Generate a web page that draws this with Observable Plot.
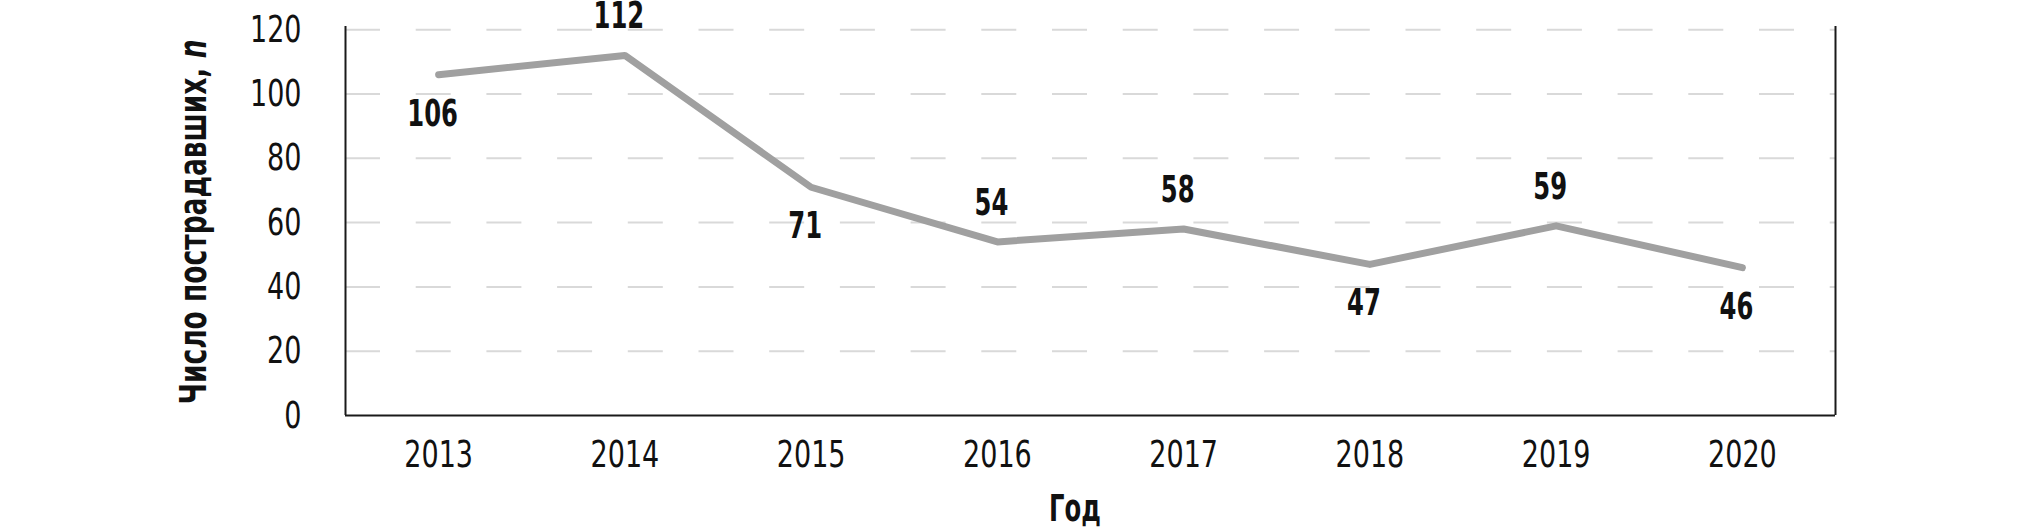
<!DOCTYPE html>
<html><head><meta charset="utf-8">
<script src="https://cdn.jsdelivr.net/npm/d3@7"></script>
<script src="https://cdn.jsdelivr.net/npm/@observablehq/plot@0.6"></script>
<style>
html,body{margin:0;padding:0;background:#fff;}
#chart svg{display:block;}
</style></head><body><div id="chart"></div>
<script>
// ---- data ----
const years = [2013, 2014, 2015, 2016, 2017, 2018, 2019, 2020];
const values = [106, 112, 71, 54, 58, 47, 59, 46];
const yTicks = [0, 20, 40, 60, 80, 100, 120];
const xTitle = "Год";
const yTitleMain = "Число пострадавших, ";
const yTitleItalic = "n";

// ---- layout ----
const labelSide = ["below", "above", "below", "above", "above", "below", "above", "below"];
const FONT = '"Liberation Sans Narrow","Arial Narrow","DejaVu Sans Condensed",sans-serif';
const rows = years.map((year, i) => ({year, value: values[i], side: labelSide[i]}));
const xEdges = [d3.min(years) - 0.5, d3.max(years) + 0.5];

const chart = Plot.plot({
  width: 2020, height: 531,
  marginLeft: 345, marginRight: 185, marginTop: 26, marginBottom: 116,
  style: {fontFamily: FONT, fontSize: "38px", color: "#111", background: "#fff", overflow: "visible"},
  x: {domain: xEdges, ticks: years, tickFormat: "d", tickSize: 0, tickPadding: 25, label: null},
  y: {domain: [0, 121], ticks: yTicks, tickSize: 0, tickPadding: 44, label: null},
  marks: [
    Plot.ruleY(yTicks.filter(d => d > 0), {stroke: "#d9d9d9", strokeWidth: 2, strokeDasharray: "35,35.7"}),
    Plot.ruleX(xEdges, {stroke: "#1a1a1a", strokeWidth: 2}),
    Plot.ruleY([0], {stroke: "#1a1a1a", strokeWidth: 2}),
    Plot.line(rows, {x: "year", y: "value", stroke: "#a0a0a0", strokeWidth: 7, strokeLinecap: "round", strokeLinejoin: "round"}),
    Plot.text(rows.filter(d => d.side === "above"), {x: "year", y: "value", text: d => String(d.value),
      lineAnchor: "bottom", dy: -27, dx: -6, fontWeight: "bold", fontSize: 38, fill: "#111"}),
    Plot.text(rows.filter(d => d.side === "below"), {x: "year", y: "value", text: d => String(d.value),
      lineAnchor: "top", dy: 24, dx: -6, fontWeight: "bold", fontSize: 38, fill: "#111"})
  ]
});

const svg = d3.select(chart);
const yt = svg.append("text")
  .attr("class", "ytitle")
  .attr("transform", "translate(206,222) rotate(-90)")
  .attr("text-anchor", "middle")
  .attr("font-family", FONT).attr("font-size", 38).attr("font-weight", "bold").attr("fill", "#111");
yt.append("tspan").text(yTitleMain);
yt.append("tspan").attr("font-style", "italic").text(yTitleItalic);

svg.append("text")
  .attr("x", 1075).attr("y", 521)
  .attr("text-anchor", "middle")
  .attr("font-family", FONT).attr("font-size", 38).attr("font-weight", "bold").attr("fill", "#111")
  .text(xTitle);

document.getElementById("chart").appendChild(chart);

// condense the fallback font horizontally to mimic a narrow typeface
chart.querySelectorAll("text").forEach(t => {
  const len = t.getComputedTextLength();
  if (!len) return;
  const w = parseInt(getComputedStyle(t).fontWeight, 10) || 400;
  let target;
  if (t.classList.contains("ytitle")) target = 365;
  else target = len * (w >= 600 ? 0.71 : 0.79);
  t.setAttribute("textLength", target.toFixed(1));
  t.setAttribute("lengthAdjust", "spacingAndGlyphs");
});
</script>
</body></html>
